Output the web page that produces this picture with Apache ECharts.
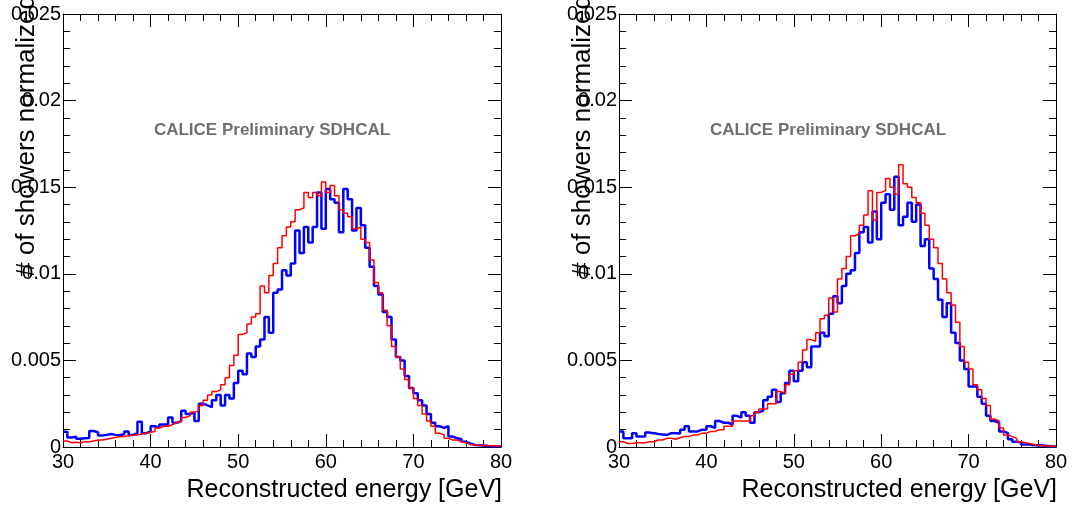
<!DOCTYPE html>
<html>
<head>
<meta charset="utf-8">
<script src="https://cdn.jsdelivr.net/npm/echarts@6/dist/echarts.min.js"></script>
<style>
html,body{margin:0;padding:0;background:#fff;}
#chart{width:1072px;height:510px;}
</style>
</head>
<body>
<div id="chart"></div>
<script>
// Histogram binning (GeV)
const xMin = 30;
const xMax = 80;
const binWidth = 0.5;

// Left panel: bin contents, bins starting at 30.0, 30.5, ... 79.5
const leftBlue = [
  0.00088, 0.00055, 0.0006, 0.00048, 0.0005, 0.00052, 0.00092, 0.00085, 0.00067, 0.0007,
  0.00075, 0.0007, 0.00068, 0.00075, 0.0009, 0.0007, 0.0008, 0.00146, 0.0008, 0.0009,
  0.0012, 0.0011, 0.0013, 0.0013, 0.0017, 0.0014, 0.0015, 0.0021, 0.0019, 0.0020,
  0.0015, 0.0025, 0.0024, 0.0023, 0.0027, 0.0030, 0.0024, 0.0030, 0.0028, 0.0037,
  0.0044, 0.0042, 0.0054, 0.0052, 0.0058, 0.0062, 0.0075, 0.0066, 0.0089, 0.0091,
  0.0102, 0.0099, 0.0106, 0.0125, 0.0112, 0.0127, 0.0118, 0.0127, 0.0147, 0.0126,
  0.0149, 0.0143, 0.0141, 0.0124, 0.0149, 0.0143, 0.0125, 0.0138, 0.0128, 0.0115,
  0.0104, 0.0093, 0.0088, 0.0078, 0.0075, 0.0062, 0.0052, 0.0050, 0.0041, 0.0034,
  0.0031, 0.0027, 0.0024, 0.0019, 0.0014, 0.0012, 0.0011, 0.0012, 0.0006, 0.0005,
  0.00045, 0.0003, 0.0002, 0.00012, 0.0001, 0.00008, 0.00006, 0.00005, 0.00004, 0.00003
];
const leftRed = [
  0.00035, 0.00025, 0.00028, 0.00025, 0.0003, 0.0003, 0.00035, 0.0004, 0.0004, 0.00045,
  0.0005, 0.00055, 0.0006, 0.0006, 0.00065, 0.0007, 0.0007, 0.00075, 0.0008, 0.00085,
  0.0009, 0.0011, 0.0012, 0.0012, 0.0013, 0.0014, 0.0015, 0.0017, 0.0018, 0.0020,
  0.0021, 0.0024, 0.0027, 0.0030, 0.0032, 0.0033, 0.0036, 0.0040, 0.0047, 0.0053,
  0.0065, 0.0066, 0.0071, 0.0075, 0.0077, 0.0093, 0.0089, 0.0099, 0.0106, 0.0115,
  0.0122, 0.0127, 0.0130, 0.0137, 0.0138, 0.0147, 0.0144, 0.0147, 0.0145, 0.0153,
  0.0147, 0.0151, 0.0145, 0.0137, 0.0135, 0.0133, 0.0126, 0.0127, 0.0120, 0.0118,
  0.0108, 0.0095, 0.0089, 0.0079, 0.0070, 0.0058, 0.0052, 0.0045, 0.0039, 0.0034,
  0.0028, 0.0024, 0.0019, 0.0015, 0.0012, 0.0008, 0.0007, 0.0005, 0.0004, 0.0004,
  0.0003, 0.00025, 0.00015, 0.00012, 0.0001, 0.00008, 0.00008, 0.00007, 0.00006, 0.00005
];

// Right panel
const rightBlue = [
  0.00089, 0.0005, 0.0005, 0.0008, 0.0006, 0.0006, 0.00083, 0.0008, 0.00075, 0.00072,
  0.0007, 0.0008, 0.0008, 0.00078, 0.001, 0.0012, 0.0009, 0.0009, 0.001, 0.001,
  0.0012, 0.0011, 0.0015, 0.0014, 0.0014, 0.0013, 0.0018, 0.0017, 0.002, 0.0018,
  0.0014, 0.002, 0.0021, 0.0027, 0.0029, 0.0033, 0.0026, 0.0031, 0.0037, 0.0044,
  0.0038, 0.0044, 0.0049, 0.0046, 0.0058, 0.0058, 0.0066, 0.0064, 0.0077, 0.0087,
  0.0083, 0.0093, 0.0100, 0.0102, 0.0112, 0.0124, 0.0127, 0.0118, 0.0136, 0.0120,
  0.0141, 0.0146, 0.0137, 0.0156, 0.0128, 0.0133, 0.0141, 0.0130, 0.0140, 0.0116,
  0.0120, 0.0103, 0.0097, 0.0085, 0.0075, 0.0083, 0.0066, 0.0060, 0.0050, 0.0045,
  0.0035, 0.0035, 0.0029, 0.0025, 0.0018, 0.0015, 0.0014, 0.0009, 0.0008, 0.00045,
  0.0003, 0.00028, 0.00015, 0.00014, 0.0001, 0.0001, 0.00008, 0.00006, 0.00004, 0.00003
];
const rightRed = [
  0.0003, 0.0002, 0.0002, 0.00025, 0.00025, 0.00025, 0.0003, 0.0003, 0.0004, 0.0004,
  0.0005, 0.0005, 0.00045, 0.00055, 0.0006, 0.0006, 0.0007, 0.0007, 0.0008, 0.0008,
  0.0009, 0.0009, 0.001, 0.001, 0.0012, 0.0012, 0.0015, 0.0015, 0.0015, 0.0015,
  0.0018, 0.002, 0.0022, 0.0022, 0.0025, 0.0025, 0.0032, 0.0031, 0.0036, 0.0042,
  0.0044, 0.0049, 0.0056, 0.0062, 0.0061, 0.0066, 0.0074, 0.0076, 0.0086, 0.0078,
  0.0097, 0.0103, 0.0110, 0.0122, 0.0123, 0.0128, 0.0134, 0.0148, 0.0131, 0.0147,
  0.0148, 0.0155, 0.0150, 0.0146, 0.0163, 0.0152, 0.0150, 0.0144, 0.0141, 0.0135,
  0.0128, 0.0120, 0.0115, 0.0106, 0.0097, 0.0089, 0.0082, 0.0072, 0.0058, 0.0049,
  0.0045, 0.0036, 0.0033, 0.0028, 0.0024, 0.0016, 0.0015, 0.0011, 0.0007, 0.0006,
  0.0005, 0.0003, 0.00025, 0.0002, 0.00013, 0.00012, 0.00008, 0.00006, 0.00006, 0.00005
];

const yMin = 0;
const yMax = 0.025;
const yInterval = 0.005;
const xInterval = 10;

const xTitle = 'Reconstructed energy [GeV]';
const yTitle = '# of showers normalized';
const watermark = 'CALICE Preliminary SDHCAL';

function toSteps(arr) {
  const pts = arr.map((v, i) => [xMin + i * binWidth, v]);
  pts.push([xMin + arr.length * binWidth, arr[arr.length - 1]]);
  return pts;
}

const FONT = 'Liberation Sans, Arial, Helvetica, sans-serif';
const grids = [
  {left: 63, right: 571, top: 14, bottom: 63},
  {left: 619, right: 16, top: 14, bottom: 63}
];

const xAxes = [];
const yAxes = [];
grids.forEach((g, gi) => {
  ['bottom', 'top'].forEach((pos) => {
    xAxes.push({
      type: 'value', gridIndex: gi, position: pos, min: xMin, max: xMax, interval: xInterval,
      axisLine: {show: true, onZero: false, lineStyle: {color: '#000', width: 1}},
      axisTick: {show: true, inside: true, length: 13, lineStyle: {color: '#000', width: 1}},
      minorTick: {show: true, splitNumber: 5, length: 7, lineStyle: {color: '#000', width: 1}},
      splitLine: {show: false},
      axisLabel: {show: pos === 'bottom', margin: 5, color: '#000', fontSize: 20, fontFamily: FONT,
                  showMinLabel: true, showMaxLabel: true}
    });
  });
  ['left', 'right'].forEach((pos) => {
    yAxes.push({
      type: 'value', gridIndex: gi, position: pos, min: yMin, max: yMax, interval: yInterval,
      axisLine: {show: true, onZero: false, lineStyle: {color: '#000', width: 1}},
      axisTick: {show: true, inside: true, length: 13, lineStyle: {color: '#000', width: 1}},
      minorTick: {show: true, splitNumber: 5, length: 7, lineStyle: {color: '#000', width: 1}},
      splitLine: {show: false},
      axisLabel: {show: pos === 'left', margin: 2, color: '#000', fontSize: 20, fontFamily: FONT,
                  showMinLabel: true, showMaxLabel: true}
    });
  });
});

function line(data, color, width, gi) {
  return {
    type: 'line', step: 'end', xAxisIndex: gi * 2, yAxisIndex: gi * 2,
    data: toSteps(data), showSymbol: false, symbol: 'none', clip: true,
    lineStyle: {color: color, width: width}, itemStyle: {color: color},
    animation: false, silent: true
  };
}

const graphics = [];
grids.forEach((g, gi) => {
  const leftPx = g.left;
  const rightPx = 1072 - g.right;
  graphics.push({
    type: 'text', x: rightPx + 1, y: 490,
    style: {text: xTitle, font: '25px ' + FONT, fill: '#000', textAlign: 'right', textVerticalAlign: 'middle'}
  });
  graphics.push({
    type: 'text', x: leftPx - 36, y: -5, rotation: Math.PI / 2,
    style: {text: yTitle, font: '26px ' + FONT, fill: '#000', textAlign: 'right', textVerticalAlign: 'middle'}
  });
  graphics.push({
    type: 'text', x: leftPx + 209, y: 130,
    style: {text: watermark, font: 'bold 17px ' + FONT, fill: '#707070', textAlign: 'center', textVerticalAlign: 'middle'}
  });
});

const chart = echarts.init(document.getElementById('chart'), null, {renderer: 'canvas'});
chart.setOption({
  animation: false,
  backgroundColor: '#fff',
  grid: grids,
  xAxis: xAxes,
  yAxis: yAxes,
  series: [
    line(leftBlue, '#0000ff', 2.5, 0),
    line(leftRed, '#ff0000', 1.5, 0),
    line(rightBlue, '#0000ff', 2.5, 1),
    line(rightRed, '#ff0000', 1.5, 1)
  ],
  graphic: graphics
});
</script>
</body>
</html>
